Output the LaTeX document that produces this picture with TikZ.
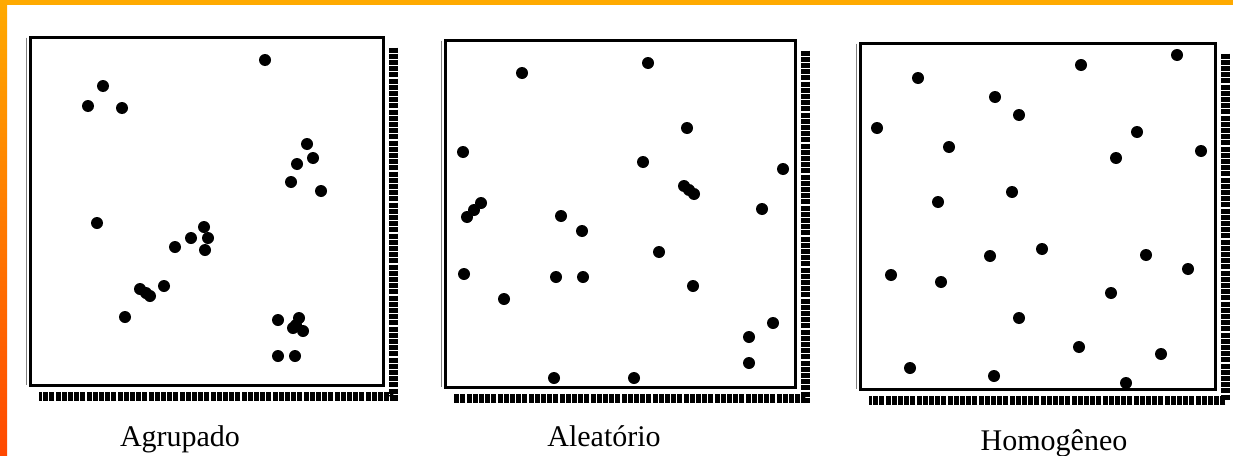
\documentclass[tikz,border=0pt]{standalone}
\usepackage{fontspec}
\setmainfont{Liberation Serif}
\usepackage{tikz}
\usetikzlibrary{positioning}
\definecolor{amber}{HTML}{FFAA00}
\definecolor{flame}{HTML}{FF4800}
\tikzset{panel/.style={draw=black,line width=3pt,fill=white,inner sep=0pt},
  shadowband/.style={draw=black,line width=9pt,dash pattern=on 5pt off 1.2pt},
  shadowline/.style={draw=black!50,line width=1.5pt},
  dot/.style={fill=black},
  lab/.style={font=\fontsize{30}{32}\selectfont,anchor=base,inner sep=0pt}}

\begin{document}
\begin{tikzpicture}[x=1pt,y=-1pt]
\useasboundingbox (0,0) rectangle (1233,455);
\fill[white] (0,0) rectangle (1233,455);
\fill[amber] (0,0) rectangle (1233,5);
\shade[top color=amber,bottom color=flame] (0,0) rectangle (7,455);
% panels
\node[panel,minimum width=353pt,minimum height=348pt] (agr) at (206.5,211) {};
\node[panel,minimum width=350pt,minimum height=347pt] (ale) at (620,213.5) {};
\node[panel,minimum width=355pt,minimum height=346pt] (hom) at (1037.5,216) {};
% ragged shadows right and bottom
\foreach \p in {agr,ale,hom}{
  \draw[shadowband] ([xshift=9pt,yshift=-12pt]\p.north east) -- ([xshift=9pt,yshift=-10pt]\p.south east)
    -- ([xshift=10pt,yshift=-10pt]\p.south west);
  \draw[shadowline] ([xshift=-2pt,yshift=-2pt]\p.north west) -- ([xshift=-2pt,yshift=2pt]\p.south west);
}
% Agrupado
\foreach \x/\y in {265/60,103/86,88/106,122/108,307/144,313/158,297/164,291/182,321/191,
  97/223,204/227,208/238,191/238,175/247,205/250,164/286,140/289,146/293,150/296,125/317,
  278/320,299/318,293/328,303/331,296/325,278/356,295/356}
  \fill[dot] (\x,\y) circle (6pt);
% Aleatorio
\foreach \x/\y in {522/73,648/63,687/128,463/152,643/162,783/169,684/186,689/190,694/194,
  481/203,474/210,467/217,762/209,561/216,582/231,659/252,464/274,556/277,583/277,693/286,
  504/299,773/323,749/337,749/363,554/378,634/378}
  \fill[dot] (\x,\y) circle (6pt);
% Homogeneo
\foreach \x/\y in {1177/55,1081/65,918/78,995/97,1019/115,877/128,1137/132,949/147,1201/151,
  1116/158,1012/192,938/202,1042/249,990/256,1146/255,891/275,941/282,1188/269,1111/293,
  1019/318,1079/347,1161/354,910/368,994/376,1126/383}
  \fill[dot] (\x,\y) circle (6pt);
% labels
\node[lab] (agrlab) at (180,446) {Agrupado};
\node[lab] (alelab) at (604,446) {Aleatório};
\node[lab] (homlab) at (1054,450) {Homogêneo};
\end{tikzpicture}
\end{document}
